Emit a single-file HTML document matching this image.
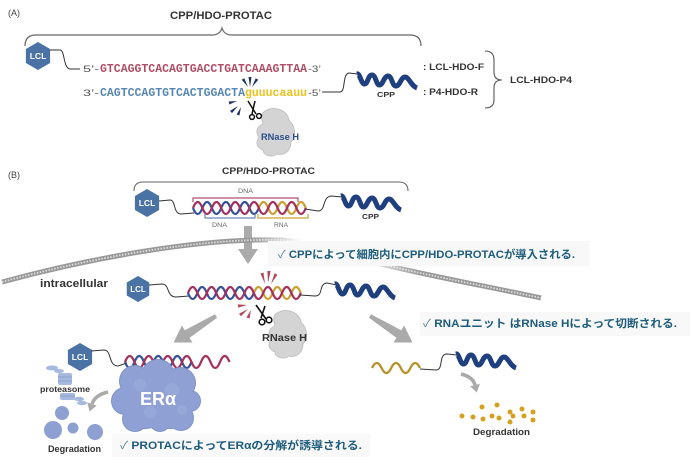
<!DOCTYPE html>
<html><head><meta charset="utf-8">
<style>
html,body{margin:0;padding:0;background:#fff;}
svg{display:block;}
text{font-family:"Liberation Sans","Noto Sans CJK JP",sans-serif;}
.mono{font-family:"Liberation Mono",monospace;}
</style></head><body>
<svg width="700" height="468" viewBox="0 0 700 468" xmlns="http://www.w3.org/2000/svg">
<defs>
 <linearGradient id="fade" gradientUnits="userSpaceOnUse" x1="0" y1="0" x2="700" y2="0">
  <stop offset="0" stop-color="#fff"/>
  <stop offset="0.36" stop-color="#fff"/>
  <stop offset="0.43" stop-color="#000"/>
  <stop offset="0.51" stop-color="#000"/>
  <stop offset="0.6" stop-color="#fff"/>
  <stop offset="1" stop-color="#fff"/>
 </linearGradient>
 <mask id="memmask"><rect x="0" y="0" width="700" height="468" fill="url(#fade)"/></mask>
</defs>

<!-- ============ (A) ============ -->
<text x="8" y="16" font-size="9" fill="#444">(A)</text>
<text x="170" y="19" font-size="11" font-weight="bold" fill="#333" textLength="102" lengthAdjust="spacingAndGlyphs">CPP/HDO-PROTAC</text>
<path d="M25,46 Q25,35 36,35 L212,35 Q220,35 222,28 Q224,35 232,35 L410,35 Q421,35 421,46" fill="none" stroke="#666" stroke-width="1.2"/>

<polygon points="38,42 50.1,49 50.1,63 38,70 25.9,63 25.9,49" fill="#4a72a4"/>
<text x="38" y="59" font-size="8.5" font-weight="bold" fill="#fff" text-anchor="middle">LCL</text>
<path d="M50,50 L60,50 C65,50 63,68 70,69 L80,69" fill="none" stroke="#333" stroke-width="1"/>

<text x="83" y="72" font-size="9.5" fill="#555" textLength="16" lengthAdjust="spacingAndGlyphs">5’-</text>
<text class="mono" x="100" y="72" font-size="12" font-weight="bold" fill="#b04c64" textLength="207" lengthAdjust="spacingAndGlyphs">GTCAGGTCACAGTGACCTGATCAAAGTTAA</text>
<text x="308" y="72" font-size="9.5" fill="#555" textLength="13" lengthAdjust="spacingAndGlyphs">-3’</text>

<text x="83" y="96" font-size="9.5" fill="#555" textLength="16" lengthAdjust="spacingAndGlyphs">3’-</text>
<text class="mono" x="100" y="96" font-size="12" font-weight="bold" fill="#5686b3" textLength="145" lengthAdjust="spacingAndGlyphs">CAGTCCAGTGTCACTGGACTA</text>
<text class="mono" x="245" y="96" font-size="12" font-weight="bold" fill="#ecc11c" textLength="62" lengthAdjust="spacingAndGlyphs">guuucaauu</text>
<text x="308" y="96" font-size="9.5" fill="#555" textLength="13" lengthAdjust="spacingAndGlyphs">-5’</text>
<path d="M322,92 L340,92 C346,92 342,74 349,73 L358,74" fill="none" stroke="#333" stroke-width="1"/>

<g transform="translate(357,72)"><path d="M0,2 C3,1 4,12 7.5,12 C11,12 11,3 15,3 C19,3 19,13 22.5,13 C26,13 27,4 31,4 C35,4 35,14 39,14 C43,14 44,5 48,5 C52,5 54,14 60,16" fill="none" stroke="#1f3f7f" stroke-width="5"/></g>
<text x="377" y="97" font-size="7.5" font-weight="bold" fill="#333" textLength="18" lengthAdjust="spacingAndGlyphs">CPP</text>

<text x="423" y="70" font-size="9.5" font-weight="bold" fill="#333" textLength="61" lengthAdjust="spacingAndGlyphs">: LCL-HDO-F</text>
<text x="423" y="95" font-size="9.5" font-weight="bold" fill="#333" textLength="55" lengthAdjust="spacingAndGlyphs">: P4-HDO-R</text>
<path d="M485,51 Q494,51 494,60 L494,72 Q494,80 502,80 Q494,80 494,88 L494,100 Q494,108 485,108" fill="none" stroke="#555" stroke-width="1.1"/>
<text x="510" y="83" font-size="9.5" font-weight="bold" fill="#333" textLength="62" lengthAdjust="spacingAndGlyphs">LCL-HDO-P4</text>

<g fill="#1f3560">
 <polygon points="244.3,78.2 241.7,79.8 248,87"/>
 <polygon points="251.5,77 248.5,77 250,87"/>
 <polygon points="258.3,79.8 255.7,78.2 252,87"/>
 <polygon points="229.4,104.5 228.6,101.5 237,101"/>
 <polygon points="232,113.1 230,110.9 238,106"/>
 <polygon points="239.4,115.5 236.6,114.5 241,107"/>
</g>
<g transform="translate(255,108)"><path d="M12,2 C20,-2 32,2 34,12 C40,18 42,28 36,34 C36,42 30,48 22,46 C18,50 8,48 8,42 C2,40 0,34 4,30 C0,24 2,18 8,16 C6,10 6,4 12,2 Z" fill="#d4d4d4" stroke="#bcbcbc" stroke-width="0.8"/></g>
<g stroke="#111" stroke-width="1.5" fill="#fff">
 <line x1="248" y1="101" x2="256" y2="114"/>
 <line x1="255" y1="101" x2="252" y2="114"/>
 <circle cx="252" cy="117" r="2.4"/>
 <circle cx="259" cy="116" r="2.4"/>
</g>
<text x="261" y="140" font-size="9" font-weight="bold" fill="#2b4e8c" textLength="38" lengthAdjust="spacingAndGlyphs">RNase H</text>

<!-- ============ (B) ============ -->
<text x="8" y="178" font-size="9" fill="#444">(B)</text>
<text x="222" y="174" font-size="9.5" font-weight="bold" fill="#333" textLength="93" lengthAdjust="spacingAndGlyphs">CPP/HDO-PROTAC</text>
<path d="M134,191 Q134,182 143,182 L399,182 Q408,182 408,191" fill="none" stroke="#666" stroke-width="1.1"/>

<polygon points="147,189 159.1,196 159.1,210 147,217 134.9,210 134.9,196" fill="#4a72a4"/>
<text x="147" y="206" font-size="8.5" font-weight="bold" fill="#fff" text-anchor="middle">LCL</text>
<path d="M159,201 L170,200 C176,200 173,214 181,214 L194,213" fill="none" stroke="#333" stroke-width="1"/>

<text x="238" y="193" font-size="6" fill="#666" textLength="15" lengthAdjust="spacingAndGlyphs">DNA</text>
<path d="M193,202 L193,198 L298,198 L298,202" fill="none" stroke="#b05070" stroke-width="1.2"/>
<path d="M193,208 q4.7,12 9.4,0 t9.4,0 t9.4,0 t9.4,0 t9.4,0 t9.4,0 t9.4,0" fill="none" stroke="#34519b" stroke-width="2.3"/>
<path d="M258.8,208 q4.7,-12 9.4,0 t9.4,0 t9.4,0 t9.4,0 t9.4,0" fill="none" stroke="#c9a133" stroke-width="2.3"/>
<path d="M193,208 q4.7,-12 9.4,0 t9.4,0 t9.4,0 t9.4,0 t9.4,0 t9.4,0 t9.4,0 t9.4,0 t9.4,0 t9.4,0 t9.4,0 t9.4,0" fill="none" stroke="#a5305c" stroke-width="2.3"/>
<path d="M205,214 L205,218 L255,218 L255,214" fill="none" stroke="#6a8ab8" stroke-width="1.2"/>
<path d="M258,214 L258,218 L308,218 L308,214" fill="none" stroke="#c9a133" stroke-width="1.2"/>
<text x="212" y="227" font-size="6" fill="#666" textLength="15" lengthAdjust="spacingAndGlyphs">DNA</text>
<text x="274" y="227" font-size="6" fill="#666" textLength="14" lengthAdjust="spacingAndGlyphs">RNA</text>
<path d="M305,209 L318,211 C326,211 322,197 331,196 L342,197" fill="none" stroke="#333" stroke-width="1"/>
<g transform="translate(341,194)"><path d="M0,2 C3,1 4,12 7.5,12 C11,12 11,3 15,3 C19,3 19,13 22.5,13 C26,13 27,4 31,4 C35,4 35,14 39,14 C43,14 44,5 48,5 C52,5 54,14 60,16" fill="none" stroke="#1f3f7f" stroke-width="5"/></g>
<text x="362" y="219" font-size="7.5" font-weight="bold" fill="#333" textLength="17" lengthAdjust="spacingAndGlyphs">CPP</text>

<polygon points="244,226 252,226 252,249 258,249 248,264 238,249 244,249" fill="#aaaaaa"/>

<g mask="url(#memmask)" fill="none">
 <path d="M2,282 C90,258 200,238 280,240 C320,242 345,254 372,262 C430,276 490,287 541,298" stroke="#999999" stroke-width="5"/>
 <path d="M2,282 C90,258 200,238 280,240 C320,242 345,254 372,262 C430,276 490,287 541,298" stroke="#dddddd" stroke-width="1.8" stroke-dasharray="1.5 1.5"/>
</g>

<rect x="268" y="241" width="322" height="25" fill="#f8f8f8"/>
<text x="278" y="258" font-size="11" font-weight="bold" fill="#1d5c7c" textLength="297" lengthAdjust="spacingAndGlyphs"><tspan font-weight="normal" fill="#5a8398">✓</tspan> CPPによって細胞内にCPP/HDO-PROTACが導入される.</text>

<text x="40" y="287" font-size="11" font-weight="bold" fill="#333" textLength="68" lengthAdjust="spacingAndGlyphs">intracellular</text>
<polygon points="138,276 149.26,282.5 149.26,295.5 138,302 126.74,295.5 126.74,282.5" fill="#4a72a4"/>
<text x="138" y="292" font-size="8" font-weight="bold" fill="#fff" text-anchor="middle">LCL</text>
<path d="M149,285 L162,284 C170,284 166,297 176,297 L189,296" fill="none" stroke="#333" stroke-width="1"/>
<path d="M188,293 q4.7,12 9.4,0 t9.4,0 t9.4,0 t9.4,0 t9.4,0 t9.4,0 t9.4,0" fill="none" stroke="#34519b" stroke-width="2.3"/>
<path d="M253.8,293 q4.7,-12 9.4,0 t9.4,0 t9.4,0 t9.4,0 t9.4,0" fill="none" stroke="#c9a133" stroke-width="2.3"/>
<path d="M188,293 q4.7,-12 9.4,0 t9.4,0 t9.4,0 t9.4,0 t9.4,0 t9.4,0 t9.4,0 t9.4,0 t9.4,0 t9.4,0 t9.4,0 t9.4,0" fill="none" stroke="#a5305c" stroke-width="2.3"/>
<path d="M300,295 L315,296 C324,296 318,284 327,283 L337,285" fill="none" stroke="#333" stroke-width="1"/>
<g transform="translate(335,282)"><path d="M0,2 C3,1 4,12 7.5,12 C11,12 11,3 15,3 C19,3 19,13 22.5,13 C26,13 27,4 31,4 C35,4 35,14 39,14 C43,14 44,5 48,5 C52,5 54,14 60,16" fill="none" stroke="#1f3f7f" stroke-width="5"/></g>

<g fill="#b04858">
 <polygon points="263.5,272.6 260.5,273.4 265,284"/>
 <polygon points="270.6,271.1 267.4,270.9 268,283"/>
 <polygon points="277.4,274.7 274.6,273.3 271,284"/>
 <polygon points="238.2,307.6 237.8,304.4 247,305"/>
 <polygon points="241,316.3 239,313.7 248,309"/>
 <polygon points="249.5,318.6 246.5,317.4 251,310"/>
</g>
<g transform="translate(267,310)"><path d="M12,2 C20,-2 32,2 34,12 C40,18 42,28 36,34 C36,42 30,48 22,46 C18,50 8,48 8,42 C2,40 0,34 4,30 C0,24 2,18 8,16 C6,10 6,4 12,2 Z" fill="#d4d4d4" stroke="#bcbcbc" stroke-width="0.8"/></g>
<g stroke="#111" stroke-width="1.6" fill="#fff">
 <line x1="256" y1="305" x2="266" y2="319"/>
 <line x1="265" y1="306" x2="261" y2="318"/>
 <circle cx="262" cy="322" r="2.8"/>
 <circle cx="269" cy="320" r="2.8"/>
</g>
<text x="262" y="341" font-size="10.5" font-weight="bold" fill="#333" textLength="45" lengthAdjust="spacingAndGlyphs">RNase H</text>

<polygon points="0,-2 34,-4.5 34,-10 50,0 34,10 34,4.5 0,2" fill="#aaaaaa" transform="translate(216,316) rotate(148)"/>
<polygon points="0,-2 34,-4.5 34,-10 50,0 34,10 34,4.5 0,2" fill="#aaaaaa" transform="translate(370,316) rotate(32)"/>

<rect x="420" y="312" width="270" height="24" fill="#f8f8f8"/>
<text x="423" y="327" font-size="11" font-weight="bold" fill="#1d5c7c" textLength="254" lengthAdjust="spacingAndGlyphs"><tspan font-weight="normal" fill="#5a8398">✓</tspan> RNAユニット はRNase Hによって切断される.</text>

<polygon points="80,343 92.1,350 92.1,364 80,371 67.9,364 67.9,350" fill="#4a72a4"/>
<text x="80" y="360" font-size="8.5" font-weight="bold" fill="#fff" text-anchor="middle">LCL</text>
<path d="M91,351 L104,350 C112,350 108,366 118,366 L127,363" fill="none" stroke="#333" stroke-width="1"/>
<path d="M125,362 q4.75,12 9.5,0 t9.5,0 t9.5,0 t9.5,0 t9.5,0 t9.5,0 t9.5,0" fill="none" stroke="#34519b" stroke-width="2.3"/>
<path d="M125,362 q4.75,-12 9.5,0 t9.5,0 t9.5,0 t9.5,0 t9.5,0 t9.5,0 t9.5,0 t9.5,0 t9.5,0 t9.5,0 t9.5,0" fill="none" stroke="#a5305c" stroke-width="2.3"/>

<g fill="#7f92c8">
 <circle cx="135" cy="381" r="16"/><circle cx="158" cy="376" r="17"/><circle cx="180" cy="383" r="16"/>
 <circle cx="125" cy="401" r="14"/><circle cx="190" cy="401" r="11"/><circle cx="145" cy="406" r="23"/>
 <circle cx="170" cy="406" r="23"/><circle cx="135" cy="419" r="13"/><circle cx="160" cy="421" r="11"/><circle cx="181" cy="418" r="13"/>
</g>
<g fill="#8fa1d4">
 <circle cx="135" cy="381" r="15"/><circle cx="158" cy="376" r="16"/><circle cx="180" cy="383" r="15"/>
 <circle cx="125" cy="401" r="13"/><circle cx="190" cy="401" r="10"/><circle cx="145" cy="406" r="22"/>
 <circle cx="170" cy="406" r="22"/><circle cx="135" cy="419" r="12"/><circle cx="160" cy="421" r="10"/><circle cx="181" cy="418" r="12"/>
</g>
<g fill="#9aabda" opacity="0.7">
 <circle cx="140" cy="385" r="6"/><circle cx="172" cy="390" r="7"/><circle cx="150" cy="412" r="6"/><circle cx="182" cy="410" r="5"/>
</g>
<text x="158" y="405" font-size="18" font-weight="bold" fill="#fff" text-anchor="middle">ERα</text>

<g fill="#a6badf">
 <ellipse cx="52" cy="368" rx="6" ry="2.5"/>
 <ellipse cx="59" cy="371" rx="5" ry="2"/>
 <rect x="58" y="373" width="14" height="12" rx="2"/>
 <rect x="60" y="393" width="15" height="7" rx="2"/>
 <ellipse cx="79" cy="399" rx="5" ry="2.2"/>
 <ellipse cx="82" cy="403" rx="5" ry="2.2"/>
</g>
<g stroke="#7f94c2" stroke-width="0.7">
 <line x1="58" y1="377" x2="72" y2="377"/><line x1="58" y1="381" x2="72" y2="381"/>
 <line x1="60" y1="396" x2="75" y2="396"/>
</g>
<text x="40" y="392" font-size="8" font-weight="bold" fill="#333" textLength="50" lengthAdjust="spacingAndGlyphs">proteasome</text>
<path d="M108,392 Q95,395 92,404" fill="none" stroke="#aaaaaa" stroke-width="3.5"/>
<polygon points="96.7,405.6 87.2,402.4 89.6,411.5" fill="#aaaaaa"/>

<g fill="#8ea0d2">
 <circle cx="62" cy="413" r="7"/>
 <circle cx="53" cy="430" r="9"/>
 <circle cx="73" cy="428" r="5.5"/>
 <circle cx="95" cy="432" r="8"/>
</g>
<text x="48" y="452" font-size="9" font-weight="bold" fill="#333" textLength="53" lengthAdjust="spacingAndGlyphs">Degradation</text>

<rect x="112" y="434" width="258" height="23" fill="#f9f9f9"/>
<text x="120" y="449" font-size="11" font-weight="bold" fill="#1d5c7c" textLength="242" lengthAdjust="spacingAndGlyphs"><tspan font-weight="normal" fill="#5a8398">✓</tspan> PROTACによってERαの分解が誘導される.</text>

<path d="M372,368 q4.8,-10 9.6,0 t9.6,0 t9.6,0 t9.6,0 t9.6,0" fill="none" stroke="#b8902a" stroke-width="2.3"/>
<path d="M420,369 L436,370 C444,370 438,354 447,354 L457,355" fill="none" stroke="#333" stroke-width="1"/>
<g transform="translate(456,352)"><path d="M0,2 C3,1 4,12 7.5,12 C11,12 11,3 15,3 C19,3 19,13 22.5,13 C26,13 27,4 31,4 C35,4 35,14 39,14 C43,14 44,5 48,5 C52,5 54,14 60,16" fill="none" stroke="#1f3f7f" stroke-width="5"/></g>
<path d="M461,374 Q473,377 475,385" fill="none" stroke="#aaaaaa" stroke-width="3.5"/>
<polygon points="479.9,383.8 470.2,386.2 476.8,392.5" fill="#aaaaaa"/>
<g fill="#d4a020">
 <circle cx="462" cy="416" r="2.5"/><circle cx="473" cy="417" r="2.5"/><circle cx="482" cy="407" r="2.5"/>
 <circle cx="483" cy="419" r="2.5"/><circle cx="492" cy="416" r="2.5"/><circle cx="497" cy="405" r="2.5"/>
 <circle cx="499" cy="418" r="2.5"/><circle cx="510" cy="412" r="2.5"/><circle cx="510" cy="422" r="2.5"/>
 <circle cx="513" cy="416" r="2.5"/><circle cx="522" cy="409" r="2.5"/><circle cx="524" cy="416" r="2.5"/>
 <circle cx="533" cy="412" r="2.5"/><circle cx="533" cy="420" r="2.5"/>
</g>
<text x="473" y="435" font-size="9" font-weight="bold" fill="#333" textLength="57" lengthAdjust="spacingAndGlyphs">Degradation</text>
</svg>
</body></html>
